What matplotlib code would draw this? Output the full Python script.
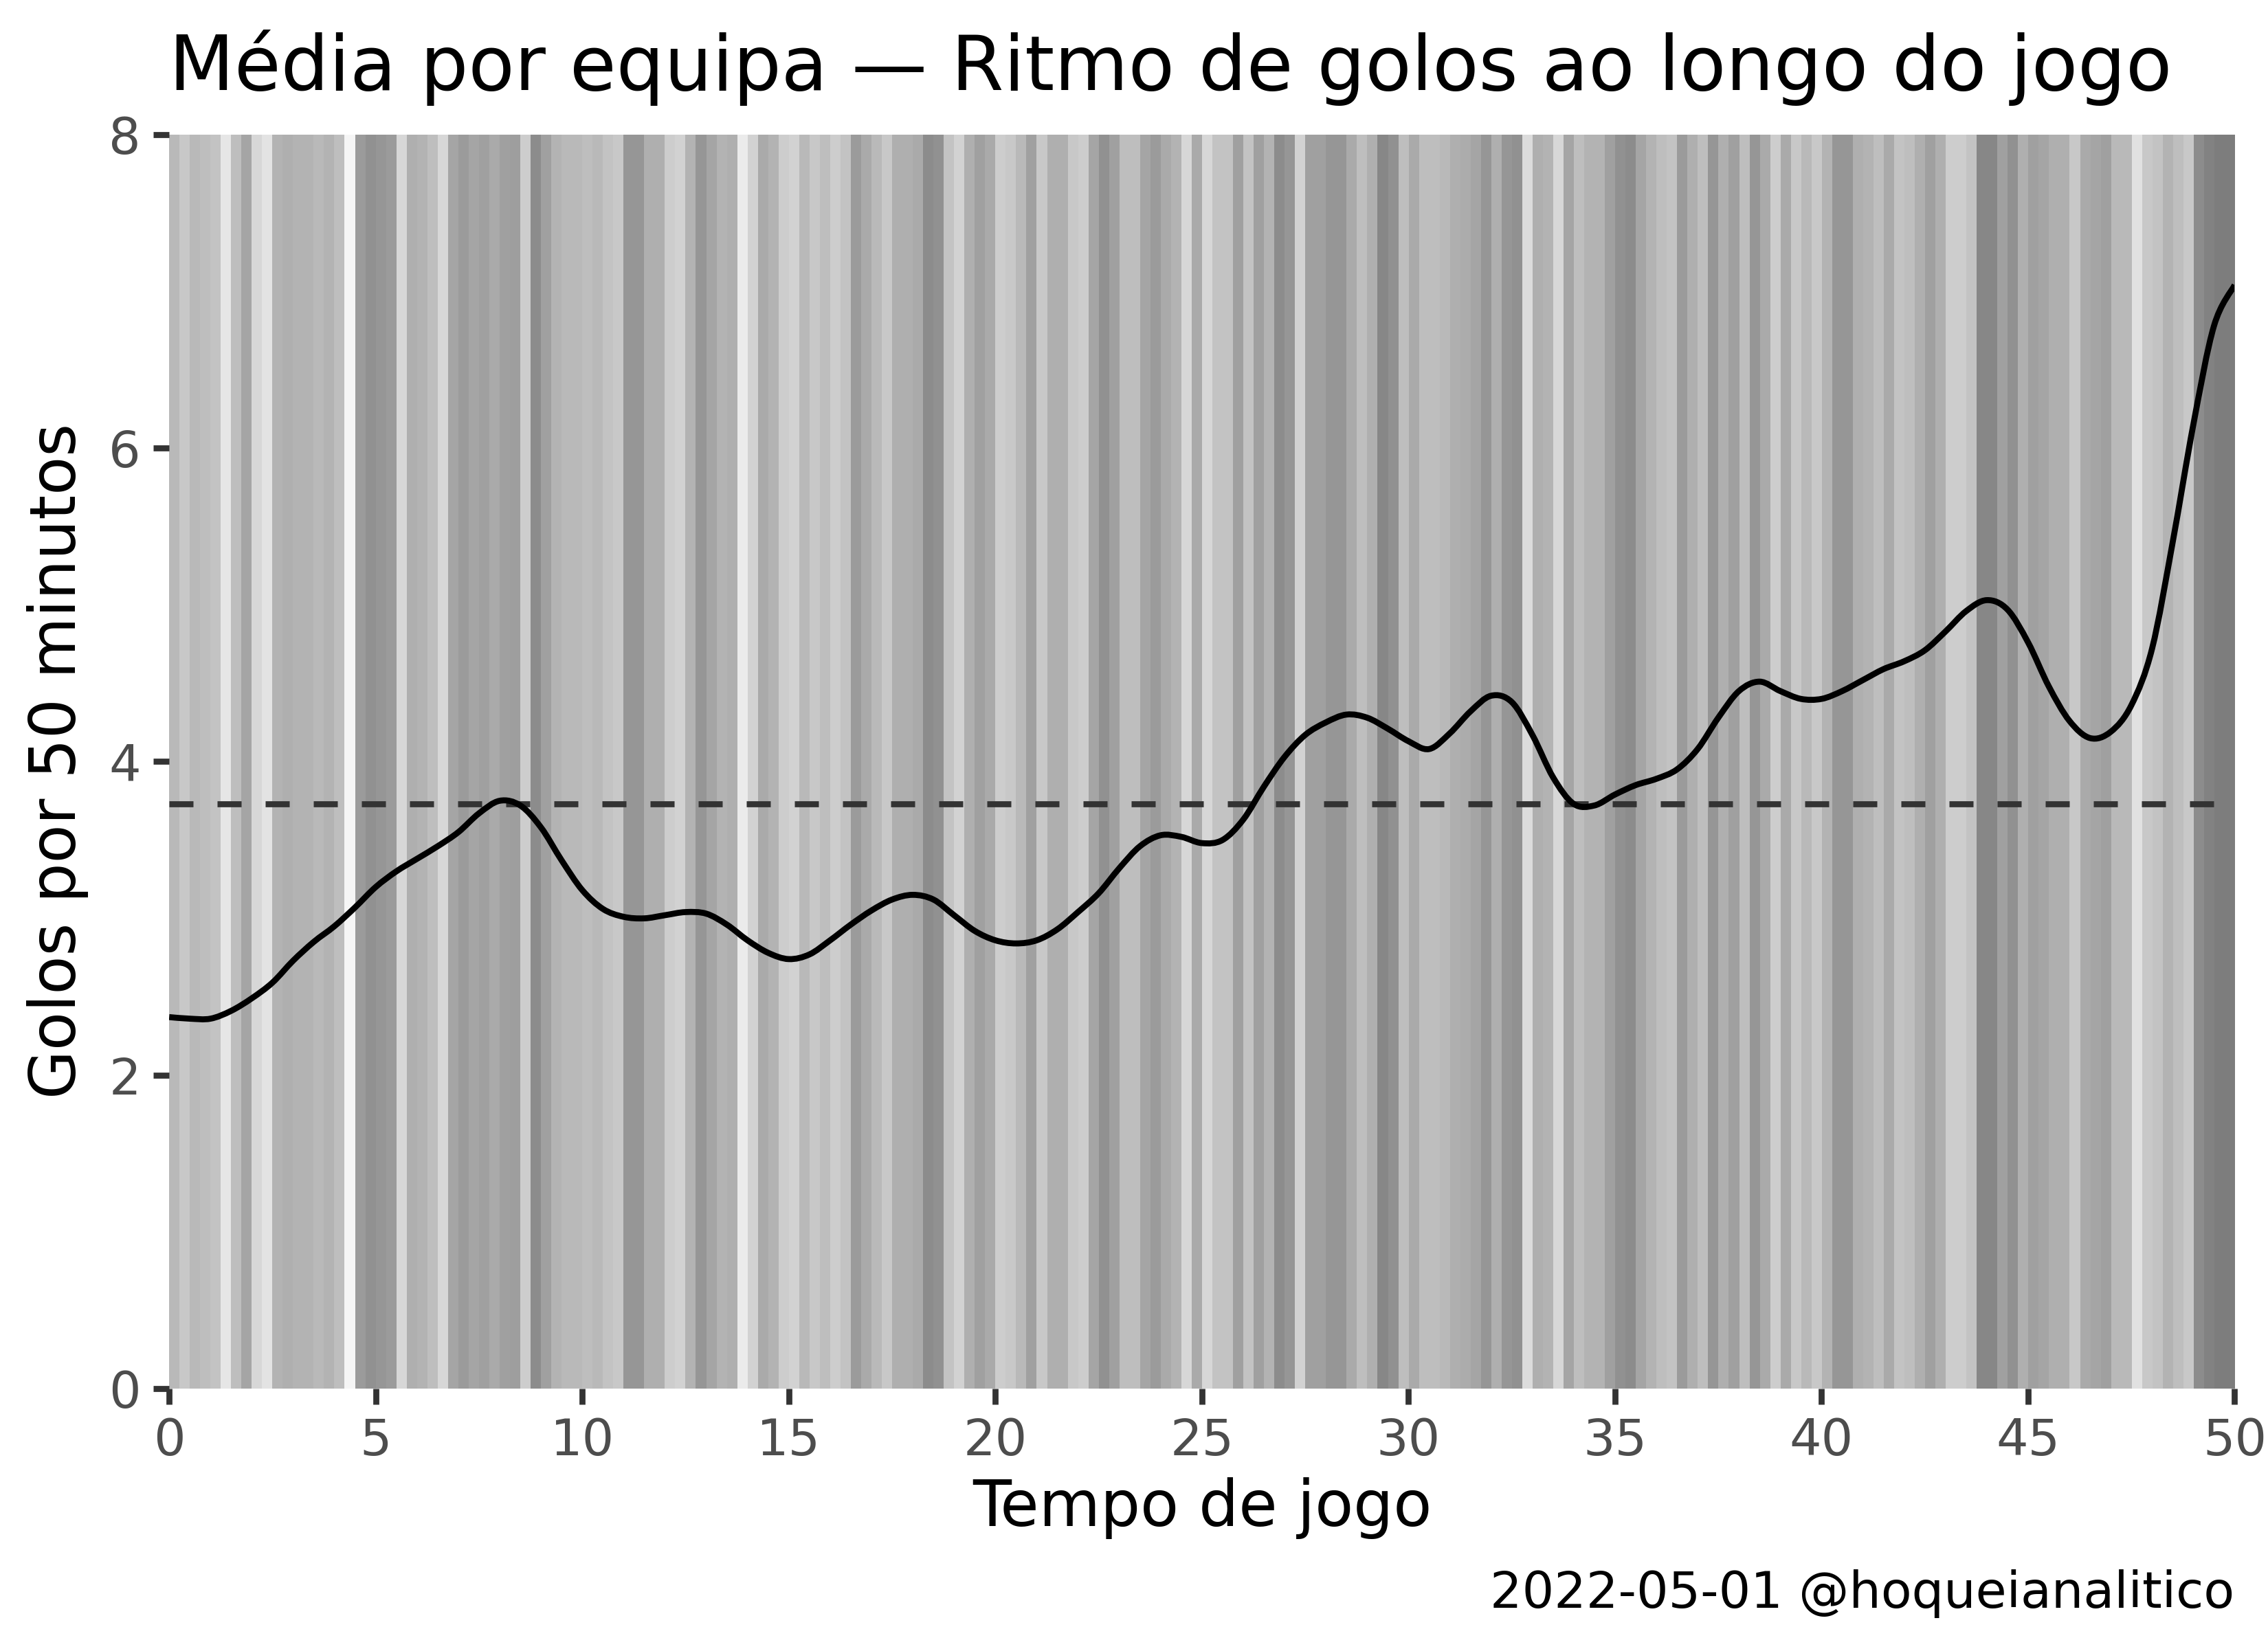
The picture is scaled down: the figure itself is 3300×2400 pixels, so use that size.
import matplotlib
matplotlib.use("Agg")
import matplotlib.pyplot as plt
from matplotlib.path import Path
from matplotlib.patches import PathPatch
import numpy as np

# ==========================
# DADOS
# ==========================

# minuto de jogo (de meio em meio minuto)
minutos = np.arange(0, 50.01, 0.5)

# ritmo medio de golos por 50 minutos (curva suavizada)
ritmo = [
    2.37, 2.36, 2.36, 2.41, 2.49, 2.59, 2.73, 2.85, 2.95, 3.07,
    3.20, 3.30, 3.38, 3.46, 3.55, 3.67, 3.75, 3.72, 3.58, 3.37,
    3.18, 3.06, 3.01, 3.00, 3.02, 3.04, 3.03, 2.96, 2.86, 2.78,
    2.74, 2.77, 2.86, 2.96, 3.05, 3.12, 3.15, 3.12, 3.02, 2.92,
    2.86, 2.84, 2.86, 2.93, 3.04, 3.16, 3.32, 3.46, 3.53, 3.52,
    3.48, 3.50, 3.63, 3.84, 4.03, 4.17, 4.25, 4.30, 4.28, 4.21,
    4.13, 4.08, 4.18, 4.32, 4.42, 4.38, 4.17, 3.90, 3.73, 3.72,
    3.79, 3.85, 3.89, 3.95, 4.08, 4.28, 4.45, 4.51, 4.45, 4.40,
    4.40, 4.45, 4.52, 4.59, 4.64, 4.71, 4.83, 4.96, 5.03, 4.97,
    4.76, 4.48, 4.26, 4.15, 4.19, 4.36, 4.72, 5.40, 6.15, 6.78,
    7.04,
]

media_global = 3.73

# tom de cinzento das marcas de golo, por quarto de minuto (0-255)
tons_golos = [
    # 0 - 12.5
    185, 200, 185, 190, 195, 230, 190, 165, 215, 228,
    180, 175, 180, 180, 185, 180, 190, 245, 155, 145,
    150, 155, 215, 175, 180, 190, 215, 165, 155, 165,
    160, 170, 160, 158, 205, 140, 160, 180, 185, 185,
    190, 185, 195, 200, 150, 150, 175, 175, 205, 210,
    # 12.5 - 25
    180, 150, 165, 180, 175, 235, 210, 170, 180, 205,
    210, 185, 200, 190, 205, 195, 155, 170, 185, 200,
    175, 175, 170, 140, 145, 195, 210, 175, 160, 170,
    205, 200, 185, 160, 200, 175, 175, 200, 205, 165,
    145, 160, 190, 190, 165, 155, 170, 180, 215, 170,
    # 25 - 37.5
    215, 195, 195, 160, 195, 160, 180, 140, 150, 210,
    160, 160, 150, 150, 170, 190, 175, 135, 145, 190,
    170, 190, 190, 185, 175, 172, 165, 150, 175, 150,
    145, 220, 175, 180, 215, 165, 190, 180, 180, 160,
    145, 140, 165, 180, 190, 195, 155, 175, 190, 150,
    # 37.5 - 50
    175, 160, 190, 150, 170, 205, 170, 200, 185, 200,
    180, 150, 150, 175, 180, 190, 170, 195, 190, 175,
    160, 175, 205, 205, 195, 135, 135, 160, 145, 175,
    160, 165, 175, 175, 200, 170, 165, 160, 185, 185,
    225, 200, 195, 180, 190, 200, 140, 130, 125, 125,
]

titulo = "Média por equipa — Ritmo de golos ao longo do jogo"
rotulo_x = "Tempo de jogo"
rotulo_y = "Golos por 50 minutos"
legenda = "2022-05-01 @hoqueianalitico"

# ==========================
# LINHA SUAVE (Catmull-Rom) QUE PASSA PELOS PONTOS LIDOS
# ==========================

def caminho_suave(x, y):
    p = np.column_stack([x, y])
    ext = np.vstack([p[0], p, p[-1]])
    verts = [p[0]]
    codes = [Path.MOVETO]
    for i in range(len(p) - 1):
        a, b, c, d = ext[i], ext[i + 1], ext[i + 2], ext[i + 3]
        verts += [b + (c - a) / 6, c - (d - b) / 6, c]
        codes += [Path.CURVE4] * 3
    return Path(verts, codes)

# ==========================
# FIGURA
# ==========================

plt.rcParams["font.family"] = ["DejaVu Sans"]

fig = plt.figure(figsize=(11, 8), dpi=300)
ax = fig.add_axes([0.0746, 0.1579, 0.9107, 0.7605])

# faixas de golos
ax.imshow(
    np.array(tons_golos, dtype=float)[None, :],
    cmap="gray",
    vmin=0,
    vmax=255,
    extent=[0, 50, 0, 8],
    aspect="auto",
    interpolation="nearest",
    zorder=0,
)

ax.axhline(media_global, color="#333333", lw=2.1, dashes=(4, 4), zorder=2)
ax.add_patch(PathPatch(caminho_suave(minutos, ritmo), fill=False,
                       edgecolor="black", lw=2.1, zorder=3))

ax.set_xlim(0, 50)
ax.set_ylim(0, 8)
ax.set_xticks(np.arange(0, 51, 5))
ax.set_yticks([0, 2, 4, 6, 8])

for lado in ax.spines.values():
    lado.set_visible(False)

ax.tick_params(
    axis="both",
    length=5.5,
    width=2.1,
    color="#333333",
    labelcolor="#4d4d4d",
    labelsize=17.6,
    pad=4.4,
)

fig.text(0.0746, 0.9456, titulo, fontsize=26.4, ha="left", va="baseline")
fig.text(0.530, 0.0745, rotulo_x, fontsize=22, ha="center", va="baseline")
fig.text(0.0255, 0.5385, rotulo_y, fontsize=22, ha="center", va="center",
         rotation=90)
fig.text(0.9853, 0.025, legenda, fontsize=17.6, ha="right", va="baseline")

fig.savefig("out.png", dpi=300)
